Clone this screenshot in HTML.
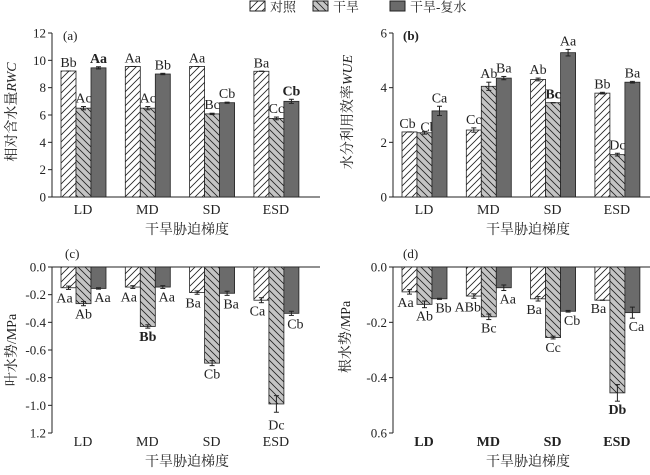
<!DOCTYPE html>
<html><head><meta charset="utf-8"><style>
body{margin:0;background:#fff}
svg text{font-family:"Liberation Serif","Noto Serif CJK SC","Noto Sans CJK SC",serif;fill:#222}
</style></head><body>
<svg id="s" width="650" height="470" viewBox="0 0 650 470" xmlns="http://www.w3.org/2000/svg">
<defs>
<pattern id="p1" patternUnits="userSpaceOnUse" width="7" height="7"><rect width="7" height="7" fill="#fff"/><path d="M-1,8 L8,-1 M-4,4 L4,-4 M3,11 L11,3" stroke="#222" stroke-width="0.8"/></pattern>
<pattern id="p2" patternUnits="userSpaceOnUse" width="7" height="7"><rect width="7" height="7" fill="#c4c4c4"/><path d="M-1,-1 L8,8 M-4,3 L4,11 M3,-4 L11,4" stroke="#222" stroke-width="0.8"/></pattern>
</defs>
<g id="g"></g>
</svg>
<script>
var g=document.getElementById('g'),h='';
function T(x,y,t,o){o=o||{};h+='<text x="'+x+'" y="'+y+'" font-size="'+(o.s||14)+'" text-anchor="'+(o.a||'middle')+'"'+(o.b?' font-weight="bold"':'')+(o.r?' transform="rotate(-90 '+x+' '+y+')"':'')+'>'+t+'</text>';}
function L(a,b,c,d){h+='<line x1="'+a+'" y1="'+b+'" x2="'+c+'" y2="'+d+'" stroke="#222" stroke-width="1"/>';}
var fills=['url(#p1)','url(#p2)','#6b6b6b'];
h+='<rect x="250" y="1" width="15" height="10" fill="url(#p1)" stroke="#222"/>';T(270,11.5,'对照',{a:'start',s:13});
h+='<rect x="313" y="1" width="15" height="10" fill="url(#p2)" stroke="#222"/>';T(333,11.5,'干旱',{a:'start',s:13});
h+='<rect x="390" y="1" width="15" height="10" fill="#6b6b6b" stroke="#222"/>';T(410,11.5,'干旱-复水',{a:'start',s:13});
function panel(P){
 var ax=P.ax,y0=P.y0,y1=P.y1,sc=(y1-y0)/P.max;
 L(ax,P.top,ax,P.bot);
 L(ax,P.axY,ax+268,P.axY);
 P.ticks.forEach(function(t){var y=y0+sc*t[0];L(ax-4,y,ax,y);T(ax-6,y+4.5,t[1],{a:'end',s:13});});
 var cats=['LD','MD','SD','ESD'];
 for(var i=0;i<4;i++){
  var gx=ax+9+i*64.3;
  for(var j=0;j<3;j++){
   var v=P.v[i][j],x=gx+j*15,yv=y0+sc*v,ytop=Math.min(y0,yv),hh=Math.abs(yv-y0);
   h+='<rect x="'+x+'" y="'+ytop+'" width="15" height="'+hh+'" fill="'+fills[j]+'" stroke="#222" stroke-width="0.8"/>';
   var e=P.e[i][j]*Math.abs(sc),cx=x+7.5;
   L(cx,yv-e,cx,yv+e);L(cx-2.5,yv-e,cx+2.5,yv-e);L(cx-2.5,yv+e,cx+2.5,yv+e);
   var lb=P.l[i][j],bold=lb[0]=='*';if(bold)lb=lb.slice(1);
   var ly=P.down?yv+e+13+(P.off?P.off[i][j]:0):yv-e-4+(P.uoff?P.uoff[i][j]:0);
   T(cx+(P.dx?P.dx[i][j]:0),ly,lb,{b:bold});
  }
  T(gx+22,P.catY,cats[i],{b:P.catB,s:14});
 }
 T(P.lx,P.ly,P.lab,{a:'start',s:13,b:P.labB});
 T(ax+135,P.xly,'干旱胁迫梯度',{s:14});
 T(P.yx,P.yy,P.yl,{r:1,s:14});
}
panel({ax:52,y0:197,y1:33,max:12,top:33,bot:197,axY:197,ticks:[[0,'0'],[2,'2'],[4,'4'],[6,'6'],[8,'8'],[10,'10'],[12,'12']],
 v:[[9.22,6.5,9.45],[9.55,6.5,9.0],[9.55,6.08,6.9],[9.2,5.75,7.0]],e:[[0,0.12,0.08],[0,0.12,0.05],[0,0.05,0.04],[0,0.1,0.15]],
 l:[['Bb','Ac','*Aa'],['Aa','Ac','Bb'],['Aa','Bc','Cb'],['Ba','Cc','*Cb']],catY:214,lab:'(a)',lx:63,ly:40,xly:234,yx:16,yy:112,yl:'相对含水量<tspan font-style="italic">RWC</tspan>'});
panel({ax:393,y0:197,y1:33,max:6,top:33,bot:197,axY:197,ticks:[[0,'0'],[2,'2'],[4,'4'],[6,'6']],
 v:[[2.38,2.35,3.15],[2.45,4.05,4.35],[4.3,3.45,5.28],[3.8,1.55,4.2]],e:[[0,0.05,0.17],[0.08,0.15,0.06],[0.05,0,0.12],[0.03,0.05,0.03]],
 l:[['Cb','Cb','Ca'],['Cc','Ab','Ba'],['Ab','*Bc','Aa'],['Bb','Dc','Ba']],dx:[[-2,4,0],[0,0,0],[0,0,0],[0,0,0]],uoff:[[0,4,0],[0,0,0],[0,0,0],[0,0,0]],
 catY:214,lab:'(b)',lx:403,ly:40,labB:1,xly:234,yx:352,yy:112,yl:'水分利用效率<tspan font-style="italic">WUE</tspan>'});
panel({ax:52,y0:267,y1:433,max:1.2,top:267,bot:433,axY:267,down:1,ticks:[[0,'0.0'],[0.2,'-0.2'],[0.4,'-0.4'],[0.6,'-0.6'],[0.8,'-0.8'],[1.0,'-1.0'],[1.2,'1.2']],
 v:[[0.15,0.265,0.155],[0.145,0.43,0.145],[0.185,0.695,0.19],[0.24,0.99,0.335]],e:[[0.012,0.015,0.005],[0.01,0.012,0.01],[0.012,0.018,0.015],[0.018,0.06,0.015]],
 l:[['Aa','Ab','Aa'],['Aa','*Bb','Aa'],['Ba','Cb','Ba'],['Ca','Dc','Cb']],off:[[0,0,0],[0,0,0],[0,0,0],[0,4,0]],dx:[[-4,0,4],[-4,0,4],[-4,0,4],[-4,0,4]],
 catY:446,lab:'(c)',lx:65,ly:258,xly:466,yx:16,yy:350,yl:'叶水势/MPa'});
panel({ax:393,y0:267,y1:433,max:0.6,top:267,bot:433,axY:267,down:1,catB:1,ticks:[[0,'0.0'],[0.2,'-0.2'],[0.4,'-0.4'],[0.6,'0.6']],
 v:[[0.09,0.135,0.115],[0.105,0.18,0.075],[0.115,0.255,0.16],[0.12,0.455,0.165]],e:[[0.008,0.012,0.002],[0.008,0.01,0.01],[0.008,0.005,0.003],[0,0.03,0.02]],
 l:[['Aa','Ab','Bb'],['ABb','Bc','Aa'],['Ba','Cc','Cb'],['Ba','*Db','Ca']],dx:[[-4,0,4],[-6,0,4],[-4,0,4],[-4,0,4]],
 catY:446,lab:'(d)',lx:403,ly:258,xly:466,yx:350,yy:337,yl:'根水势/MPa'});
g.innerHTML=h;
</script>
</body></html>
